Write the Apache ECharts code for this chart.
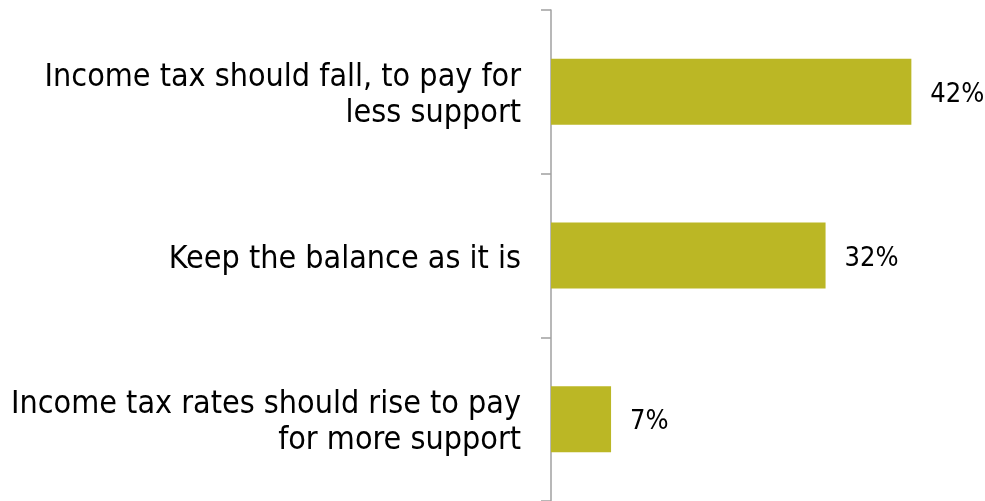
<!DOCTYPE html>
<html><head><meta charset="utf-8">
<script src="https://cdn.jsdelivr.net/npm/echarts@6/dist/echarts.min.js"></script>
<style>html,body{margin:0;padding:0;background:#fff}#c{width:985px;height:501px}</style>
</head><body><div id="c"></div>
<script>
const categories = [
  "Income tax should fall, to pay for\nless support",
  "Keep the balance as it is",
  "Income tax rates should rise to pay\nfor more support"
];
const values = [42, 32, 7];
const labelSuffix = "%";

const chart = echarts.init(document.getElementById('c'));
chart.setOption({
  animation: false,
  grid: { left: 551, width: 429, top: 10, height: 494, containLabel: false },
  xAxis: { type: 'value', min: 0, max: 50, show: false },
  yAxis: {
    type: 'category', data: categories, inverse: true,
    axisLine: { show: true, lineStyle: { color: '#a0a0a0', width: 1.5 } },
    axisTick: { show: true, alignWithLabel: false, length: 10, lineStyle: { color: '#a0a0a0', width: 1.5 } },
    axisLabel: {
      margin: 30, color: '#000', align: 'right',
      formatter: v => v.split('\n').map(l => '{t|' + l + '}').join('\n'),
      rich: {
        t: { fontSize: 32, lineHeight: 36, padding: [8, 0, 0, 0], color: '#000', fontFamily: 'DejaVu Sans Condensed' }
      }
    }
  },
  series: [{
    type: 'bar', data: values, barWidth: 66,
    itemStyle: { color: '#BBB725' },
    label: { show: true, position: 'right', distance: 19, offset: [0, 3], fontSize: 27, color: '#000', fontFamily: 'DejaVu Sans Condensed',
      formatter: p => p.value + labelSuffix }
  }]
});
</script></body></html>
